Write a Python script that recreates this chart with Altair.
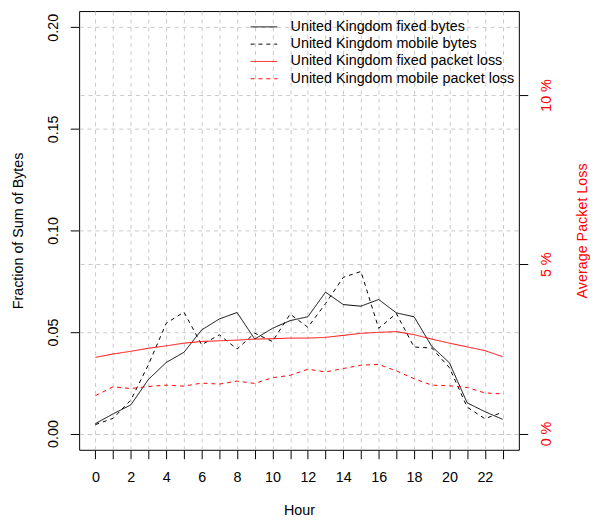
import altair as alt
import pandas as pd

hours = list(range(24))
fixed_bytes = [0.0049, 0.0097, 0.0141, 0.0267, 0.0350, 0.0400, 0.0510, 0.0564, 0.0596, 0.0465,
               0.0518, 0.0556, 0.0575, 0.0696, 0.0635, 0.0627, 0.0660, 0.0594, 0.0575, 0.0429,
               0.0348, 0.0151, 0.0108, 0.0070]
mobile_bytes = [0.0044, 0.0075, 0.0165, 0.0340, 0.0543, 0.0598, 0.0437, 0.0486, 0.0416, 0.0494,
                0.0453, 0.0588, 0.0523, 0.0640, 0.0769, 0.0798, 0.0518, 0.0591, 0.0426, 0.0421,
                0.0324, 0.0130, 0.0073, 0.0105]
fixed_loss = [2.25, 2.35, 2.43, 2.52, 2.59, 2.67, 2.72, 2.74, 2.76, 2.79,
              2.80, 2.82, 2.82, 2.84, 2.90, 2.96, 2.99, 3.01, 2.92, 2.79,
              2.67, 2.56, 2.45, 2.27]
mobile_loss = [1.12, 1.38, 1.33, 1.39, 1.43, 1.40, 1.49, 1.46, 1.55, 1.48,
               1.65, 1.72, 1.90, 1.82, 1.92, 2.02, 2.04, 1.85, 1.62, 1.43,
               1.41, 1.36, 1.20, 1.17]

series_names = ["United Kingdom fixed bytes", "United Kingdom mobile bytes",
                "United Kingdom fixed packet loss", "United Kingdom mobile packet loss"]
series_colors = ["black", "black", "#ff0000", "#ff0000"]
series_dashes = [[1, 0], [4, 4], [1, 0], [4, 4]]

x_ticks = hours
left_ticks = [0, 0.05, 0.10, 0.15, 0.20]
right_ticks = [0, 5, 10]

bytes_df = pd.DataFrame({
    "hour": hours * 2,
    "value": fixed_bytes + mobile_bytes,
    "series": [series_names[0]] * 24 + [series_names[1]] * 24,
})
loss_df = pd.DataFrame({
    "hour": hours * 2,
    "loss": fixed_loss + mobile_loss,
    "series": [series_names[2]] * 24 + [series_names[3]] * 24,
})

FONT = "Liberation Sans"
FS = 14.5
GRID = "#c8c8c8"
H = 444


def legend():
    return alt.Legend(title=None, orient="none", legendX=173, legendY=8,
                      symbolType="stroke", symbolSize=729, symbolStrokeWidth=1,
                      labelOffset=13, labelFontSize=FS, labelFont=FONT,
                      labelColor="black", clipHeight=16, rowPadding=1.5,
                      padding=0, labelLimit=400)


color = alt.Color("series:N",
                  scale=alt.Scale(domain=series_names, range=series_colors),
                  legend=legend())
dash = alt.StrokeDash("series:N",
                      scale=alt.Scale(domain=series_names, range=series_dashes),
                      legend=legend())

x_enc = alt.X("hour:Q",
              scale=alt.Scale(domain=[-0.92, 23.92], nice=False, zero=False),
              axis=alt.Axis(values=x_ticks, labelExpr="datum.value % 2 == 0 ? datum.label : ''",
                            title="Hour", grid=True, gridDash=[4, 4], gridColor=GRID,
                            domain=False, tickSize=9, tickColor="black", labelPadding=23,
                            labelBaseline="alphabetic", labelOverlap=False, labelFlush=False,
                            labelFontSize=FS, labelFont=FONT, labelColor="black",
                            titleFontSize=FS, titleFont=FONT, titleFontWeight="normal",
                            titleColor="black", titleX=222.5, titleY=66,
                            titleBaseline="alphabetic", titleAlign="center"))

bytes_layer = alt.Chart(bytes_df).mark_line(strokeWidth=1).encode(
    x=x_enc,
    y=alt.Y("value:Q",
            scale=alt.Scale(domain=[-0.008, 0.208], nice=False, zero=False),
            axis=alt.Axis(values=left_ticks, format=".2f", orient="left",
                          title="Fraction of Sum of Bytes", grid=True, gridDash=[4, 4],
                          gridColor=GRID, domain=False, tickSize=9, tickColor="black",
                          labelAngle=270, labelAlign="center", labelBaseline="alphabetic",
                          labelPadding=12.6, labelFontSize=FS, labelFont=FONT,
                          labelColor="black", labelOverlap=False, labelFlush=False,
                          titleFontSize=FS, titleFont=FONT, titleFontWeight="normal",
                          titleColor="black", titleAngle=270, titleX=-57.6, titleY=H / 2,
                          titleAlign="center", titleBaseline="alphabetic")),
    color=color,
    strokeDash=dash,
)

loss_layer = alt.Chart(loss_df).mark_line(strokeWidth=1).encode(
    x=x_enc,
    y=alt.Y("loss:Q",
            scale=alt.Scale(domain=[-0.48, 12.48], nice=False, zero=False),
            axis=alt.Axis(values=right_ticks, labelExpr="datum.value + ' %'", orient="right",
                          title="Average Packet Loss", grid=True, gridDash=[4, 4],
                          gridColor=GRID, domain=False, tickSize=9, tickColor="black",
                          labelAngle=270, labelAlign="center", labelBaseline="alphabetic",
                          labelPadding=23.4, labelFontSize=FS, labelFont=FONT,
                          labelColor="#ff0000", labelOverlap=False, labelFlush=False,
                          titleFontSize=FS, titleFont=FONT, titleFontWeight="normal",
                          titleColor="#ff0000", titleAngle=270, titleX=68, titleY=H / 2,
                          titleAlign="center", titleBaseline="alphabetic")),
    color=color,
    strokeDash=dash,
)

chart = alt.layer(bytes_layer, loss_layer).resolve_scale(
    y="independent"
).properties(
    width=445, height=H,
    padding={"left": 72, "top": 0, "right": 72, "bottom": 72},
    autosize=alt.AutoSizeParams(type="none"),
    background="white",
).configure_view(stroke="black", strokeWidth=1)

chart.save("out.html", embed_options={"renderer": "svg", "actions": False})
